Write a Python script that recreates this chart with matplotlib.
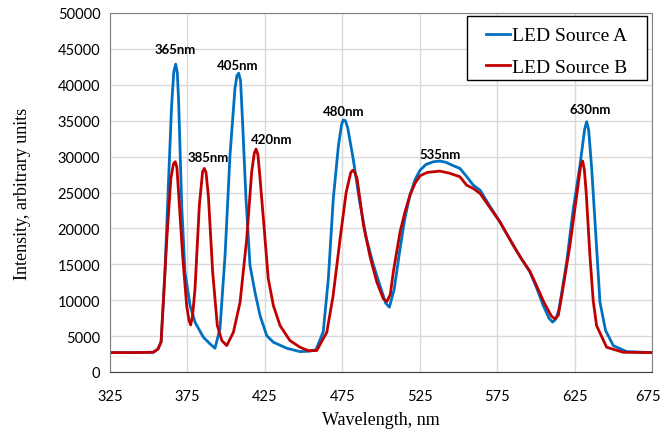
import matplotlib
matplotlib.use("Agg")
import matplotlib.pyplot as plt
from matplotlib.patches import Rectangle
from matplotlib.transforms import ScaledTranslation

# ---- spectra (nm, arbitrary units) ----
wl_a = [325, 340, 353, 356, 358, 360.5, 362.6, 364.8, 366.2, 367.4, 368.5, 369.3,
        371.3, 373.4, 376.7, 379.9, 385.3, 389.6, 392.8, 396, 399.3, 402.5,
        405.7, 407, 408.1, 409.3, 410.6, 412.8, 415.4, 418.6, 421.9, 426.2, 430.5,
        439.1, 447.7, 454, 458, 462.7, 466, 469.2, 472.5, 474.5, 475.6, 477,
        478.5, 482, 486, 490.6, 495, 499.3, 503, 505.4, 508.5, 512.3, 515.5,
        518.7, 522, 525.2, 529, 533.8, 538.1, 542, 546, 551, 555, 559.6, 564,
        570, 576.8, 585, 590, 596.2, 600.5, 604.8, 608.5, 610.8, 613, 615,
        619.9, 624, 628.5, 631.5, 632.8, 634.1, 636, 638.2, 641.4, 645, 650,
        658.6, 675]
int_a = [2700, 2700, 2750, 3200, 4200, 13970, 25560, 37200, 41800, 42880, 41600,
         37800, 23230, 13920, 9260, 6940, 4840, 3910, 3310, 6000, 16240, 30210,
         39520, 41300, 41620, 40600, 34870, 24160, 14850, 11130, 7860, 5070,
         4150, 3310, 2840, 2900, 3100, 5600, 13000, 24160, 31500, 34400, 35100,
         35000, 34000, 29750, 24000, 18570, 15000, 12050, 9600, 9030, 11500,
         17180, 21500, 24620, 26800, 28100, 28900, 29280, 29380, 29200, 28800,
         28350, 27300, 26020, 25320, 23200, 20900, 17800, 16000, 13920, 11700,
         9260, 7500, 6940, 7400, 8800, 15320, 22500, 28810, 33800, 34870,
         33700, 28500, 20900, 9730, 5800, 3680, 2840, 2700]

wl_b = [325, 340, 353, 356, 358, 361.7, 364.3, 366, 367.1, 368.2, 369.1, 371.9,
        374.5, 376, 377.1, 378.3, 379.9, 382.7, 384.8, 385.9, 387, 388.5, 391.3,
        394.3, 397.2, 400.4, 404.7, 409, 413.3, 416.5, 418.2, 419.3, 420.5,
        421.9, 424.4, 427.2, 430.5, 434.8, 441.2, 447.7, 453, 458.5, 465, 469,
        473.6, 477.5, 480.5, 481.8, 483, 484.5, 488.7, 493, 497.3, 501.5, 503.8,
        506, 508, 512.3, 515.5, 518.7, 522, 525.2, 530, 538.1, 544, 551, 555.3,
        560, 564, 570, 576.8, 585, 590, 596.2, 600.5, 605, 610, 612.3, 614.5,
        617, 622, 626, 629, 630.2, 631.3, 632.5, 634.9, 637, 639.2, 645.7,
        656.4, 675]
int_b = [2700, 2700, 2750, 3200, 4200, 18570, 26950, 29000, 29290, 28500, 25560,
         16240, 9260, 7200, 6560, 7800, 11590, 23230, 27900, 28350, 27800, 24620,
         13920, 6470, 4380, 3680, 5540, 9730, 18570, 27890, 30500, 31050, 30300,
         26950, 20430, 12990, 9260, 6470, 4380, 3450, 2980, 2980, 5540, 10500,
         18570, 25000, 27800, 28100, 27800, 27000, 20430, 16000, 12530, 10200,
         9820, 10800, 14000, 19510, 22300, 24620, 26300, 27330, 27800, 27980,
         27700, 27190, 26020, 25500, 24860, 23000, 20900, 17800, 16000, 14000,
         12000, 9800, 7800, 7400, 7900, 11000, 17640, 24000, 28800, 29380,
         28200, 25000, 16240, 10000, 6470, 3450, 2750, 2700]

peak_labels = ["365nm", "385nm", "405nm", "420nm", "480nm", "535nm", "630nm"]
peak_x = [367, 388.3, 407.7, 429.6, 476, 538, 635]
peak_y = [44970, 29890, 42740, 32400, 36310, 30300, 36590]

fig = plt.figure(figsize=(6.61, 4.31), dpi=100)
ax = fig.add_axes([110 / 661, 1 - 373 / 431, 542 / 661, 359 / 431])

ax.plot(wl_a, int_a, color="#0070C0", lw=2, label="LED Source A")
ax.plot(wl_b, int_b, color="#C00000", lw=2, label="LED Source B")

for t, x, y in zip(peak_labels, peak_x, peak_y):
    ax.text(x, y, t, ha="center", va="center", fontsize=9.5,
            fontweight="bold", family="Lato")

ax.set_xlim(325, 675)
ax.set_ylim(0, 50000)
ax.set_xticks(range(325, 676, 50))
ax.set_yticks(range(0, 50001, 5000))
ax.grid(True, color="#d9d9d9", lw=1)
ax.set_axisbelow(True)
for s in ["top", "left", "right"]:
    ax.spines[s].set_color("#808080")
ax.spines["bottom"].set_color("#404040")
ax.tick_params(length=0, labelsize=10.5)
ax.tick_params(axis="x", pad=12)
ax.tick_params(axis="y", pad=7)
for lab in ax.get_xticklabels() + ax.get_yticklabels():
    lab.set_family("Lato")
# last x label sits right at the figure edge; nudge it in slightly
last = ax.get_xticklabels()[-1]
last.set_transform(last.get_transform() + ScaledTranslation(-4 / 100, 0, fig.dpi_scale_trans))

ax.set_xlabel("Wavelength, nm", family="Liberation Serif", fontsize=13, labelpad=6)
ax.set_ylabel("Intensity, arbitrary units", family="Liberation Serif", fontsize=13,
              labelpad=19)

# Excel-style legend: wide square box, entries centred inside
ax.add_patch(Rectangle((0.6587, 0.8128), 0.3321, 0.1788, transform=ax.transAxes,
                       facecolor="white", edgecolor="black", lw=1, zorder=4))
leg = ax.legend(loc="center", bbox_to_anchor=(0.8247, 0.8934),
                prop={"family": "Liberation Serif", "size": 14},
                frameon=False, handlelength=1.2, handletextpad=0.15,
                borderpad=0, labelspacing=0.7, borderaxespad=0)
leg.set_zorder(5)

fig.savefig("out.png", dpi=100)
